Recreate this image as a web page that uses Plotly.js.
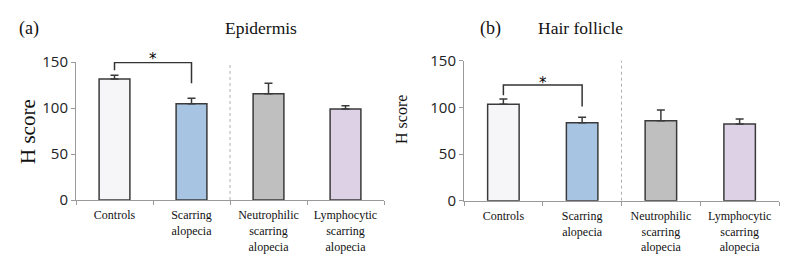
<!DOCTYPE html>
<html><head><meta charset="utf-8">
<script src="https://cdn.plot.ly/plotly-3.0.1.min.js"></script>
<style>body{margin:0;background:#fff}#c{width:785px;height:255px}</style>
</head><body><div id="c"></div>
<script>
const categories = ["Controls", "Scarring<br>alopecia", "Neutrophilic<br>scarring<br>alopecia", "Lymphocytic<br>scarring<br>alopecia"];
const barColors = ["#f6f6f9", "#a7c5e2", "#bfbfbf", "#ddd1e5"];
const epidermisValues = [131.5, 104.7, 115.5, 98.9];
const epidermisErrors = [4.0, 5.8, 11.3, 3.6];
const follicleValues = [103.3, 83.6, 85.7, 82.2];
const follicleErrors = [5.7, 5.7, 11.5, 5.3];
const yTickVals = [0, 50, 100, 150];
// significance bracket: [top, left leg bottom, right leg bottom, star level]
const epidermisBracket = [149.5, 141, 127, 153.8];
const follicleBracket = [124, 113, 101, 126.6];
const panelTitles = ["Epidermis", "Hair follicle"];
const panelLetters = ["(a)", "(b)"];

function barTrace(vals, errs, xa, ya) {
  return {
    type: "bar", x: categories, y: vals, xaxis: xa, yaxis: ya, width: 0.4,
    marker: {color: barColors, line: {color: "#3a3a3a", width: 1.5}},
    error_y: {type: "data", symmetric: false, array: errs, arrayminus: errs.map(() => 0),
      color: "#3a3a3a", thickness: 1.5, width: 4},
    hoverinfo: "none", showlegend: false
  };
}
const data = [
  barTrace(epidermisValues, epidermisErrors, "x", "y"),
  barTrace(follicleValues, follicleErrors, "x2", "y2")
];
const serif = "Liberation Serif";
function xAx(dom, anchor) {
  return {domain: dom, anchor: anchor, type: "category", range: [-0.5, 3.5],
    showline: true, linecolor: "#9a9a9a", linewidth: 1, ticks: "outside", tickson: "boundaries",
    ticklen: 4, tickcolor: "#9a9a9a", showgrid: false, zeroline: false, ticklabelstandoff: 4,
    tickfont: {family: serif, size: 12, color: "#111"}, fixedrange: true};
}
function yAx(dom, anchor) {
  return {domain: dom, anchor: anchor, range: [0, 150], tickvals: yTickVals,
    showline: true, linecolor: "#9a9a9a", linewidth: 1, ticks: "outside", ticklen: 4, tickcolor: "#9a9a9a",
    showgrid: false, zeroline: false, tickfont: {family: "Open Sans", size: 15, color: "#222"}};
}
function bracket(b, xr, yr) {
  return {type: "path", xref: xr, yref: yr,
    path: `M 0 ${b[1]} L 0 ${b[0]} L 1 ${b[0]} L 1 ${b[2]}`,
    line: {color: "#333", width: 1.5}};
}
function divider(xr, yr, top) {
  return {type: "line", xref: xr, yref: yr, x0: 1.5, x1: 1.5, y0: 0, y1: top,
    line: {color: "#b0b0b0", width: 1, dash: "dot"}};
}
function star(b, xr, yr) {
  return {text: "*", xref: xr, yref: yr + " domain", x: 0.5, y: b[3] / 150, yanchor: "middle", xanchor: "center",
    showarrow: false, font: {family: "DejaVu Sans", size: 15, color: "#000"}};
}
const layout = {
  width: 785, height: 255, margin: {l: 0, r: 0, t: 0, b: 0},
  paper_bgcolor: "#fff", plot_bgcolor: "#fff",
  xaxis: xAx([76/785, 384/785], "y"),
  yaxis: yAx([1 - 200/255, 1 - 62/255], "x"),
  xaxis2: xAx([464/785, 779/785], "y2"),
  yaxis2: yAx([1 - 200.7/255, 1 - 60.7/255], "x2"),
  shapes: [
    divider("x", "y", 152), divider("x2", "y2", 152),
    bracket(epidermisBracket, "x", "y"), bracket(follicleBracket, "x2", "y2")
  ],
  annotations: [
    {text: panelLetters[0], xref: "paper", yref: "paper", x: 17/785, y: 1 - 16/255, showarrow: false,
      font: {family: serif, size: 18, color: "#111"}},
    {text: panelTitles[0], xref: "paper", yref: "paper", x: 223/785, y: 1 - 16/255, showarrow: false,
      font: {family: serif, size: 17.5, color: "#111"}},
    {text: panelLetters[1], xref: "paper", yref: "paper", x: 490/785, y: 1 - 16/255, showarrow: false,
      font: {family: serif, size: 18, color: "#111"}},
    {text: panelTitles[1], xref: "paper", yref: "paper", x: 625/785, y: 1 - 16/255, showarrow: false,
      font: {family: serif, size: 17.5, color: "#111"}},
    {text: "H score", textangle: -90, xref: "paper", yref: "paper", x: 14/785, y: 1 - 132/255, showarrow: false,
      font: {family: serif, size: 21, color: "#111"}},
    {text: "H score", textangle: -90, xref: "paper", yref: "paper", x: 401/785, y: 1 - 120/255, showarrow: false,
      font: {family: serif, size: 16, color: "#111"}},
    star(epidermisBracket, "x", "y"),
    star(follicleBracket, "x2", "y2")
  ]
};
Plotly.newPlot("c", data, layout, {staticPlot: true, displayModeBar: false});
</script>
</body></html>
